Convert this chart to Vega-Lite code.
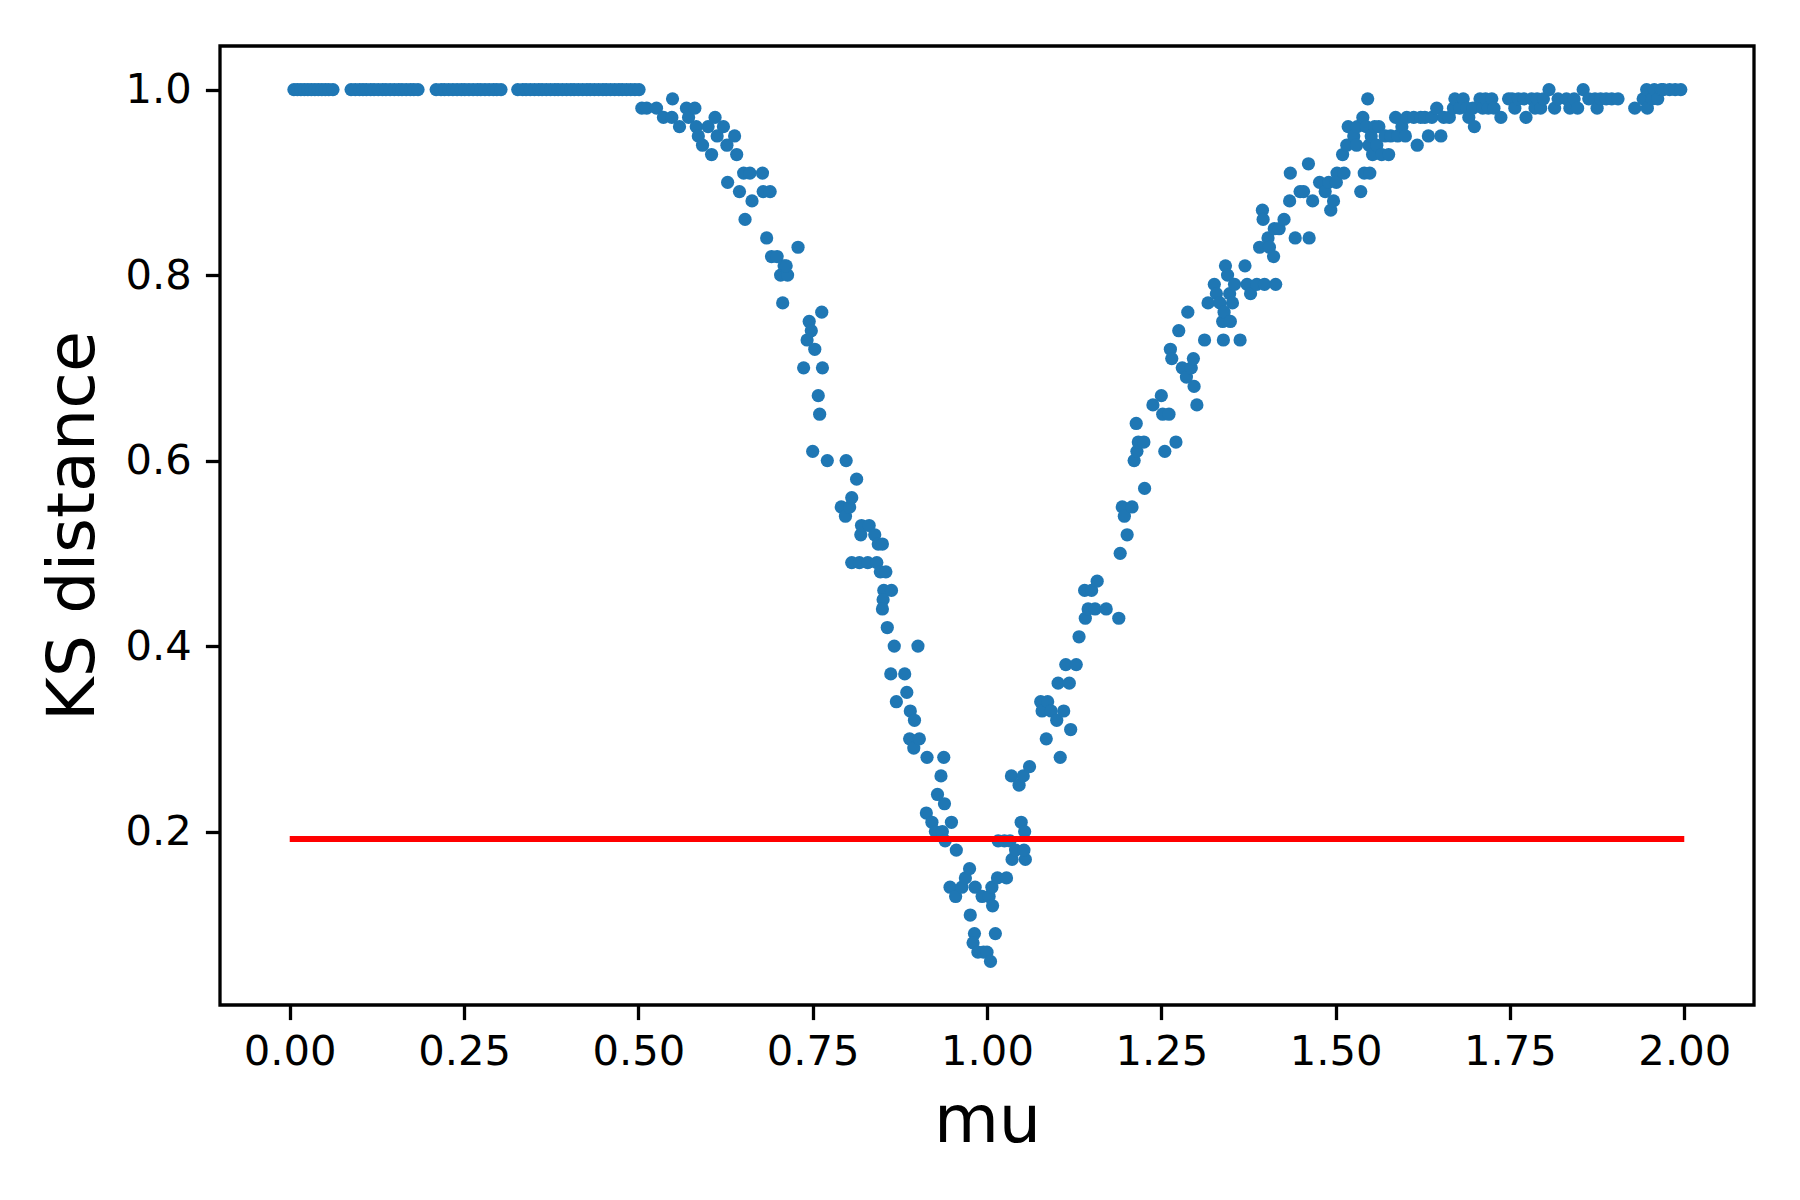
{
  "$schema": "https://vega.github.io/schema/vega-lite/v6.json",
  "autosize": {"type": "none"},
  "width": 1534,
  "height": 959,
  "padding": {"left": 220, "top": 46, "right": 46, "bottom": 195},
  "background": "white",
  "config": {
    "view": {"stroke": "black", "strokeWidth": 3.3},
    "font": "DejaVu Sans",
    "axis": {
      "grid": false,
      "domain": false,
      "tickColor": "black",
      "tickWidth": 3.3,
      "tickSize": 14.6,
      "labelColor": "black",
      "labelFont": "DejaVu Sans",
      "labelFontSize": 41.7,
      "labelPadding": 12,
      "labelOverlap": false,
      "labelFlush": false,
      "titleColor": "black",
      "titleFont": "DejaVu Sans",
      "titleFontSize": 66.7,
      "titleFontWeight": "normal"
    }
  },
  "datasets": {
    "pts": [
      {"mu":0.006,"ks":1.0},{"mu":0.011,"ks":1.0},{"mu":0.016,"ks":1.0},{"mu":0.021,"ks":1.0},{"mu":0.026,"ks":1.0},{"mu":0.031,"ks":1.0},{"mu":0.036,"ks":1.0},{"mu":0.041,"ks":1.0},{"mu":0.046,"ks":1.0},{"mu":0.051,"ks":1.0},{"mu":0.056,"ks":1.0},{"mu":0.062,"ks":1.0},
      {"mu":0.088,"ks":1.0},{"mu":0.094,"ks":1.0},{"mu":0.1,"ks":1.0},{"mu":0.105,"ks":1.0},{"mu":0.11,"ks":1.0},{"mu":0.116,"ks":1.0},{"mu":0.121,"ks":1.0},{"mu":0.127,"ks":1.0},{"mu":0.133,"ks":1.0},{"mu":0.138,"ks":1.0},{"mu":0.144,"ks":1.0},{"mu":0.15,"ks":1.0},{"mu":0.156,"ks":1.0},{"mu":0.161,"ks":1.0},{"mu":0.167,"ks":1.0},{"mu":0.173,"ks":1.0},{"mu":0.178,"ks":1.0},{"mu":0.184,"ks":1.0},
      {"mu":0.21,"ks":1.0},{"mu":0.217,"ks":1.0},{"mu":0.222,"ks":1.0},{"mu":0.228,"ks":1.0},{"mu":0.234,"ks":1.0},{"mu":0.24,"ks":1.0},{"mu":0.246,"ks":1.0},{"mu":0.251,"ks":1.0},{"mu":0.257,"ks":1.0},{"mu":0.263,"ks":1.0},{"mu":0.269,"ks":1.0},{"mu":0.274,"ks":1.0},{"mu":0.28,"ks":1.0},{"mu":0.286,"ks":1.0},{"mu":0.292,"ks":1.0},{"mu":0.297,"ks":1.0},{"mu":0.303,"ks":1.0},
      {"mu":0.327,"ks":1.0},{"mu":0.334,"ks":1.0},{"mu":0.339,"ks":1.0},{"mu":0.345,"ks":1.0},{"mu":0.351,"ks":1.0},{"mu":0.357,"ks":1.0},{"mu":0.362,"ks":1.0},{"mu":0.368,"ks":1.0},{"mu":0.374,"ks":1.0},{"mu":0.38,"ks":1.0},{"mu":0.385,"ks":1.0},{"mu":0.391,"ks":1.0},{"mu":0.397,"ks":1.0},{"mu":0.403,"ks":1.0},{"mu":0.408,"ks":1.0},{"mu":0.414,"ks":1.0},{"mu":0.42,"ks":1.0},{"mu":0.426,"ks":1.0},{"mu":0.431,"ks":1.0},{"mu":0.437,"ks":1.0},{"mu":0.443,"ks":1.0},{"mu":0.449,"ks":1.0},{"mu":0.454,"ks":1.0},{"mu":0.46,"ks":1.0},{"mu":0.466,"ks":1.0},{"mu":0.472,"ks":1.0},{"mu":0.477,"ks":1.0},{"mu":0.483,"ks":1.0},{"mu":0.489,"ks":1.0},{"mu":0.495,"ks":1.0},{"mu":0.501,"ks":1.0},
      {"mu":0.505,"ks":0.98},{"mu":0.512,"ks":0.98},{"mu":0.526,"ks":0.98},{"mu":0.536,"ks":0.97},{"mu":0.549,"ks":0.99},{"mu":0.548,"ks":0.97},{"mu":0.559,"ks":0.96},{"mu":0.569,"ks":0.98},{"mu":0.572,"ks":0.97},{"mu":0.581,"ks":0.98},{"mu":0.583,"ks":0.96},{"mu":0.586,"ks":0.95},{"mu":0.592,"ks":0.94},{"mu":0.6,"ks":0.96},{"mu":0.605,"ks":0.93},{"mu":0.61,"ks":0.97},{"mu":0.613,"ks":0.95},{"mu":0.622,"ks":0.96},{"mu":0.627,"ks":0.94},{"mu":0.628,"ks":0.9},{"mu":0.638,"ks":0.95},{"mu":0.641,"ks":0.93},{"mu":0.645,"ks":0.89},{"mu":0.651,"ks":0.91},{"mu":0.653,"ks":0.86},{"mu":0.66,"ks":0.91},{"mu":0.663,"ks":0.88},{"mu":0.678,"ks":0.91},{"mu":0.679,"ks":0.89},{"mu":0.684,"ks":0.84},{"mu":0.689,"ks":0.89},{"mu":0.691,"ks":0.82},{"mu":0.699,"ks":0.82},{"mu":0.704,"ks":0.8},{"mu":0.709,"ks":0.81},{"mu":0.714,"ks":0.8},{"mu":0.707,"ks":0.77},{"mu":0.712,"ks":0.81},{"mu":0.729,"ks":0.83},{"mu":0.742,"ks":0.73},{"mu":0.745,"ks":0.75},{"mu":0.748,"ks":0.74},{"mu":0.737,"ks":0.7},{"mu":0.753,"ks":0.72},{"mu":0.758,"ks":0.67},{"mu":0.76,"ks":0.65},{"mu":0.763,"ks":0.76},{"mu":0.764,"ks":0.7},{"mu":0.75,"ks":0.61},{"mu":0.771,"ks":0.6},{"mu":0.798,"ks":0.6},{"mu":0.791,"ks":0.55},{"mu":0.797,"ks":0.54},{"mu":0.803,"ks":0.55},{"mu":0.806,"ks":0.56},{"mu":0.813,"ks":0.58},{"mu":0.806,"ks":0.49},{"mu":0.817,"ks":0.49},{"mu":0.829,"ks":0.49},{"mu":0.819,"ks":0.52},{"mu":0.82,"ks":0.53},{"mu":0.831,"ks":0.53},{"mu":0.839,"ks":0.52},{"mu":0.844,"ks":0.51},{"mu":0.85,"ks":0.51},{"mu":0.842,"ks":0.49},{"mu":0.847,"ks":0.48},{"mu":0.855,"ks":0.48},{"mu":0.852,"ks":0.46},{"mu":0.863,"ks":0.46},{"mu":0.851,"ks":0.45},{"mu":0.85,"ks":0.44},{"mu":0.857,"ks":0.42},{"mu":0.867,"ks":0.4},{"mu":0.862,"ks":0.37},{"mu":0.882,"ks":0.37},{"mu":0.87,"ks":0.34},{"mu":0.885,"ks":0.35},{"mu":0.89,"ks":0.33},{"mu":0.896,"ks":0.32},{"mu":0.889,"ks":0.3},{"mu":0.895,"ks":0.29},{"mu":0.903,"ks":0.3},{"mu":0.901,"ks":0.4},{"mu":0.914,"ks":0.28},{"mu":0.913,"ks":0.22},{"mu":0.921,"ks":0.21},{"mu":0.926,"ks":0.2},{"mu":0.929,"ks":0.24},{"mu":0.934,"ks":0.26},{"mu":0.938,"ks":0.28},{"mu":0.939,"ks":0.23},{"mu":0.936,"ks":0.2},{"mu":0.94,"ks":0.19},{"mu":0.949,"ks":0.21},{"mu":0.956,"ks":0.18},{"mu":0.947,"ks":0.14},{"mu":0.955,"ks":0.13},{"mu":0.964,"ks":0.14},{"mu":0.969,"ks":0.15},{"mu":0.975,"ks":0.16},{"mu":0.976,"ks":0.11},{"mu":0.982,"ks":0.09},{"mu":0.98,"ks":0.08},{"mu":0.987,"ks":0.07},{"mu":0.995,"ks":0.07},{"mu":1.0,"ks":0.07},{"mu":1.005,"ks":0.06},{"mu":0.983,"ks":0.14},{"mu":0.993,"ks":0.13},{"mu":1.003,"ks":0.13},{"mu":1.007,"ks":0.14},{"mu":1.008,"ks":0.12},{"mu":1.012,"ks":0.09},{"mu":1.015,"ks":0.15},{"mu":1.016,"ks":0.19},{"mu":1.025,"ks":0.19},{"mu":1.033,"ks":0.19},{"mu":1.028,"ks":0.15},{"mu":1.036,"ks":0.17},{"mu":1.035,"ks":0.26},{"mu":1.046,"ks":0.25},{"mu":1.041,"ks":0.18},{"mu":1.049,"ks":0.21},{"mu":1.054,"ks":0.2},{"mu":1.055,"ks":0.17},{"mu":1.053,"ks":0.18},{"mu":1.052,"ks":0.26},{"mu":1.061,"ks":0.27},{"mu":1.077,"ks":0.34},{"mu":1.079,"ks":0.33},{"mu":1.085,"ks":0.3},{"mu":1.087,"ks":0.34},{"mu":1.092,"ks":0.33},{"mu":1.1,"ks":0.32},{"mu":1.102,"ks":0.36},{"mu":1.105,"ks":0.28},{"mu":1.11,"ks":0.33},{"mu":1.113,"ks":0.38},{"mu":1.118,"ks":0.36},{"mu":1.12,"ks":0.31},{"mu":1.128,"ks":0.38},{"mu":1.132,"ks":0.41},{"mu":1.14,"ks":0.46},{"mu":1.141,"ks":0.43},{"mu":1.145,"ks":0.44},{"mu":1.15,"ks":0.46},{"mu":1.158,"ks":0.47},{"mu":1.155,"ks":0.44},{"mu":1.171,"ks":0.44},{"mu":1.189,"ks":0.43},{"mu":1.191,"ks":0.5},{"mu":1.194,"ks":0.55},{"mu":1.197,"ks":0.54},{"mu":1.201,"ks":0.52},{"mu":1.208,"ks":0.55},{"mu":1.211,"ks":0.6},{"mu":1.214,"ks":0.64},{"mu":1.215,"ks":0.61},{"mu":1.217,"ks":0.62},{"mu":1.225,"ks":0.62},{"mu":1.226,"ks":0.57},{"mu":1.238,"ks":0.66},{"mu":1.25,"ks":0.67},{"mu":1.252,"ks":0.65},{"mu":1.261,"ks":0.65},{"mu":1.255,"ks":0.61},{"mu":1.263,"ks":0.72},{"mu":1.265,"ks":0.71},{"mu":1.271,"ks":0.62},{"mu":1.275,"ks":0.74},{"mu":1.28,"ks":0.7},{"mu":1.286,"ks":0.69},{"mu":1.288,"ks":0.76},{"mu":1.293,"ks":0.7},{"mu":1.296,"ks":0.71},{"mu":1.297,"ks":0.68},{"mu":1.301,"ks":0.66},{"mu":1.312,"ks":0.73},{"mu":1.317,"ks":0.77},{"mu":1.326,"ks":0.79},{"mu":1.329,"ks":0.78},{"mu":1.334,"ks":0.77},{"mu":1.339,"ks":0.73},{"mu":1.338,"ks":0.75},{"mu":1.34,"ks":0.76},{"mu":1.342,"ks":0.81},{"mu":1.345,"ks":0.8},{"mu":1.349,"ks":0.75},{"mu":1.348,"ks":0.78},{"mu":1.352,"ks":0.77},{"mu":1.355,"ks":0.79},{"mu":1.363,"ks":0.73},{"mu":1.37,"ks":0.81},{"mu":1.373,"ks":0.79},{"mu":1.378,"ks":0.78},{"mu":1.387,"ks":0.79},{"mu":1.391,"ks":0.83},{"mu":1.395,"ks":0.87},{"mu":1.396,"ks":0.86},{"mu":1.398,"ks":0.79},{"mu":1.403,"ks":0.84},{"mu":1.405,"ks":0.83},{"mu":1.411,"ks":0.82},{"mu":1.412,"ks":0.85},{"mu":1.414,"ks":0.79},{"mu":1.419,"ks":0.85},{"mu":1.426,"ks":0.86},{"mu":1.434,"ks":0.88},{"mu":1.435,"ks":0.91},{"mu":1.442,"ks":0.84},{"mu":1.449,"ks":0.89},{"mu":1.454,"ks":0.89},{"mu":1.461,"ks":0.92},{"mu":1.462,"ks":0.84},{"mu":1.467,"ks":0.88},{"mu":1.477,"ks":0.9},{"mu":1.485,"ks":0.89},{"mu":1.49,"ks":0.9},{"mu":1.493,"ks":0.87},{"mu":1.497,"ks":0.88},{"mu":1.502,"ks":0.91},{"mu":1.501,"ks":0.9},{"mu":1.512,"ks":0.91},{"mu":1.51,"ks":0.93},{"mu":1.516,"ks":0.94},{"mu":1.518,"ks":0.96},{"mu":1.526,"ks":0.95},{"mu":1.53,"ks":0.94},{"mu":1.531,"ks":0.96},{"mu":1.536,"ks":0.89},{"mu":1.539,"ks":0.97},{"mu":1.541,"ks":0.91},{"mu":1.544,"ks":0.96},{"mu":1.546,"ks":0.99},{"mu":1.548,"ks":0.94},{"mu":1.549,"ks":0.91},{"mu":1.551,"ks":0.95},{"mu":1.553,"ks":0.93},{"mu":1.556,"ks":0.96},{"mu":1.559,"ks":0.94},{"mu":1.562,"ks":0.96},{"mu":1.566,"ks":0.93},{"mu":1.571,"ks":0.95},{"mu":1.576,"ks":0.93},{"mu":1.579,"ks":0.95},{"mu":1.586,"ks":0.97},{"mu":1.589,"ks":0.95},{"mu":1.595,"ks":0.96},{"mu":1.6,"ks":0.95},{"mu":1.602,"ks":0.97},{"mu":1.612,"ks":0.97},{"mu":1.617,"ks":0.94},{"mu":1.622,"ks":0.97},{"mu":1.628,"ks":0.97},{"mu":1.633,"ks":0.95},{"mu":1.638,"ks":0.97},{"mu":1.645,"ks":0.98},{"mu":1.651,"ks":0.95},{"mu":1.655,"ks":0.97},{"mu":1.663,"ks":0.97},{"mu":1.669,"ks":0.98},{"mu":1.671,"ks":0.99},{"mu":1.678,"ks":0.98},{"mu":1.683,"ks":0.99},{"mu":1.688,"ks":0.98},{"mu":1.691,"ks":0.97},{"mu":1.697,"ks":0.98},{"mu":1.699,"ks":0.96},{"mu":1.707,"ks":0.99},{"mu":1.711,"ks":0.98},{"mu":1.715,"ks":0.99},{"mu":1.719,"ks":0.98},{"mu":1.724,"ks":0.99},{"mu":1.727,"ks":0.98},{"mu":1.737,"ks":0.97},{"mu":1.748,"ks":0.99},{"mu":1.753,"ks":0.99},{"mu":1.757,"ks":0.98},{"mu":1.762,"ks":0.99},{"mu":1.77,"ks":0.99},{"mu":1.773,"ks":0.97},{"mu":1.781,"ks":0.99},{"mu":1.786,"ks":0.98},{"mu":1.789,"ks":0.99},{"mu":1.794,"ks":0.98},{"mu":1.798,"ks":0.99},{"mu":1.806,"ks":1.0},{"mu":1.814,"ks":0.98},{"mu":1.819,"ks":0.99},{"mu":1.831,"ks":0.99},{"mu":1.836,"ks":0.98},{"mu":1.842,"ks":0.99},{"mu":1.847,"ks":0.98},{"mu":1.855,"ks":1.0},{"mu":1.863,"ks":0.99},{"mu":1.872,"ks":0.99},{"mu":1.875,"ks":0.98},{"mu":1.88,"ks":0.99},{"mu":1.888,"ks":0.99},{"mu":1.896,"ks":0.99},{"mu":1.905,"ks":0.99},{"mu":1.929,"ks":0.98},{"mu":1.941,"ks":0.99},{"mu":1.946,"ks":1.0},{"mu":1.947,"ks":0.98},{"mu":1.954,"ks":0.99},{"mu":1.957,"ks":1.0},{"mu":1.962,"ks":0.99},{"mu":1.967,"ks":1.0},{"mu":1.97,"ks":1.0},{"mu":1.979,"ks":1.0},{"mu":1.987,"ks":1.0},{"mu":1.995,"ks":1.0}
    ],
    "crit": [{"mu": 0, "ks": 0.192}, {"mu": 2, "ks": 0.192}]
  },
  "layer": [
    {
      "data": {"name": "pts"},
      "mark": {"type": "point", "filled": true, "shape": "circle", "size": 175, "opacity": 1, "color": "#1f77b4", "strokeWidth": 0},
      "encoding": {
        "x": {"field": "mu", "type": "quantitative", "title": "mu",
              "scale": {"domain": [-0.1, 2.1], "nice": false, "zero": false},
              "axis": {"values": [0, 0.25, 0.5, 0.75, 1.0, 1.25, 1.5, 1.75, 2.0], "format": ".2f", "titlePadding": 15}},
        "y": {"field": "ks", "type": "quantitative", "title": "KS distance",
              "scale": {"domain": [0.013, 1.047], "nice": false, "zero": false},
              "axis": {"values": [0.2, 0.4, 0.6, 0.8, 1.0], "format": ".1f", "labelPadding": 14, "titlePadding": 18}}
      }
    },
    {
      "data": {"name": "crit"},
      "mark": {"type": "line", "color": "red", "strokeWidth": 6},
      "encoding": {
        "x": {"field": "mu", "type": "quantitative"},
        "y": {"field": "ks", "type": "quantitative"}
      }
    }
  ]
}
